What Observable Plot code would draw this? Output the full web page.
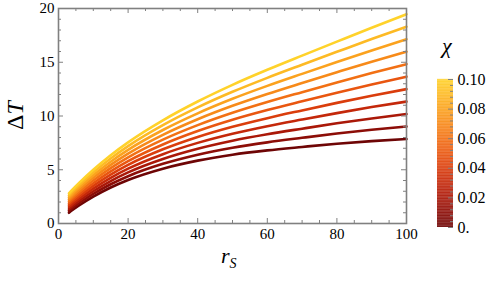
<!DOCTYPE html>
<html>
<head>
<meta charset="utf-8">
<script src="https://cdn.jsdelivr.net/npm/d3@7"></script>
<script src="https://cdn.jsdelivr.net/npm/@observablehq/plot@0.6"></script>
<style>
  html, body { margin: 0; padding: 0; background: #fff; }
  #wrap { position: relative; width: 496px; height: 284px; overflow: hidden; font-family: "Liberation Serif", serif; }
  #main, #bar { position: absolute; top: 0; }
  #main { left: 0; }
  #bar { left: 420px; }
  .lab { position: absolute; font-family: "Liberation Serif", serif; color: #000; white-space: nowrap; }
</style>
</head>
<body>
<div id="wrap">
  <div id="main"></div>
  <div id="bar"></div>
  <div class="lab" id="ylab" style="left:-3px; top:102px; font-size:24px; transform: rotate(-90deg); transform-origin: 50% 50%; width:36px; text-align:center;">Δ<i>T</i></div>
  <div class="lab" id="xlab" style="left:221px; top:243px; font-size:22px;"><i>r</i><i style="font-size:14px; position:relative; top:5px;">S</i></div>
  <div class="lab" id="clab" style="left:442px; top:33px; font-size:22px;"><i>χ</i></div>
</div>
<script>
// radial coordinate samples
const rS = [3, 4, 6, 10, 15, 20, 30, 40, 50, 60, 70, 80, 90, 100];
// chi values of the curves
const chiValues = [0, 0.01, 0.02, 0.03, 0.04, 0.05, 0.06, 0.07, 0.08, 0.09, 0.10];
// ΔT for each chi
const dT_000 = [1.00, 1.25, 1.70, 2.50, 3.35, 4.05, 5.10, 5.85, 6.40, 6.80, 7.12, 7.42, 7.66, 7.86];
const dT_001 = [1.18, 1.44, 1.91, 2.75, 3.65, 4.40, 5.55, 6.40, 7.05, 7.55, 7.97, 8.37, 8.72, 9.02];
const dT_002 = [1.36, 1.63, 2.12, 3.00, 3.95, 4.75, 6.00, 6.95, 7.70, 8.30, 8.82, 9.32, 9.77, 10.18];
const dT_003 = [1.54, 1.82, 2.33, 3.25, 4.25, 5.10, 6.45, 7.50, 8.35, 9.05, 9.67, 10.27, 10.83, 11.34];
const dT_004 = [1.72, 2.01, 2.54, 3.50, 4.55, 5.45, 6.90, 8.05, 9.00, 9.80, 10.52, 11.22, 11.88, 12.50];
const dT_005 = [1.90, 2.20, 2.75, 3.75, 4.85, 5.80, 7.35, 8.60, 9.65, 10.55, 11.37, 12.17, 12.94, 13.66];
const dT_006 = [2.08, 2.39, 2.96, 4.00, 5.15, 6.15, 7.80, 9.15, 10.30, 11.30, 12.22, 13.12, 13.99, 14.82];
const dT_007 = [2.26, 2.58, 3.17, 4.25, 5.45, 6.50, 8.25, 9.70, 10.95, 12.05, 13.07, 14.07, 15.05, 15.98];
const dT_008 = [2.44, 2.77, 3.38, 4.50, 5.75, 6.85, 8.70, 10.25, 11.60, 12.80, 13.92, 15.02, 16.10, 17.14];
const dT_009 = [2.62, 2.96, 3.59, 4.75, 6.05, 7.20, 9.15, 10.80, 12.25, 13.55, 14.77, 15.97, 17.16, 18.30];
const dT_010 = [2.80, 3.15, 3.80, 5.00, 6.35, 7.55, 9.60, 11.35, 12.90, 14.30, 15.62, 16.92, 18.21, 19.46];
const series = [dT_000, dT_001, dT_002, dT_003, dT_004, dT_005, dT_006, dT_007, dT_008, dT_009, dT_010];

// axis ticks
const xMajor = [0, 20, 40, 60, 80, 100];
const xMinor = [5, 10, 15, 25, 30, 35, 45, 50, 55, 65, 70, 75, 85, 90, 95];
const yMajor = [0, 5, 10, 15, 20];
const yMinor = [1, 2, 3, 4, 6, 7, 8, 9, 11, 12, 13, 14, 16, 17, 18, 19];
const cMajor = [0, 0.02, 0.04, 0.06, 0.08, 0.10];
const cMajorLabels = ["0.", "0.02", "0.04", "0.06", "0.08", "0.10"];
const cMinor = [0.004, 0.008, 0.012, 0.016, 0.024, 0.028, 0.032, 0.036, 0.044, 0.048, 0.052, 0.056, 0.064, 0.068, 0.072, 0.076, 0.084, 0.088, 0.092, 0.096];
// colour map (dark red -> yellow)
const colorStops = ["#6e0505", "#a11208", "#cf2c0a", "#ec560f", "#f78217", "#fcaa1f", "#ffd22a"];

const data = series.flatMap((vals, i) => vals.map((v, j) => ({r: rS[j], dT: v, chi: chiValues[i]})));

const W = 430, H = 284, mL = 58, mR = 24, mT = 8, mB = 61;
const iW = W - mL - mR, iH = H - mT - mB;
const grey = "#808080";
const colorScale = {type: "linear", domain: [0, 0.1], interpolate: d3.interpolateRgbBasis(colorStops)};

const main = Plot.plot({
  width: W, height: H,
  marginLeft: mL, marginRight: mR, marginTop: mT, marginBottom: mB,
  style: {fontFamily: "Liberation Serif, serif", fontSize: "15px", color: "#000", background: "transparent"},
  x: {domain: [0, 100], label: null},
  y: {domain: [0, 20], label: null},
  color: colorScale,
  marks: [
    Plot.line(data, {x: "r", y: "dT", z: "chi", stroke: "chi", strokeWidth: 2.6, curve: "monotone-x"}),
    // inward ticks, bottom & top
    Plot.tickX(xMajor, {x: d => d, insetTop: iH - 5, stroke: grey}),
    Plot.tickX(xMinor, {x: d => d, insetTop: iH - 3, stroke: grey}),
    Plot.tickX(xMajor, {x: d => d, insetBottom: iH - 5, stroke: grey}),
    Plot.tickX(xMinor, {x: d => d, insetBottom: iH - 3, stroke: grey}),
    // inward ticks, left & right
    Plot.tickY(yMajor, {y: d => d, insetRight: iW - 5, stroke: grey}),
    Plot.tickY(yMinor, {y: d => d, insetRight: iW - 3, stroke: grey}),
    Plot.tickY(yMajor, {y: d => d, insetLeft: iW - 5, stroke: grey}),
    Plot.tickY(yMinor, {y: d => d, insetLeft: iW - 3, stroke: grey}),
    Plot.frame({stroke: grey, strokeWidth: 1.6}),
    Plot.axisX({anchor: "bottom", ticks: xMajor, tickSize: 0, tickPadding: 5, label: null, fill: "#000"}),
    Plot.axisY({anchor: "left", ticks: yMajor, tickSize: 0, tickPadding: 4, label: null, fill: "#000"})
  ]
});
document.getElementById("main").appendChild(main);

// colour bar
const bW = 76, bL = 17, bR = 43, bT = 79, bB = 57;
const steps = d3.range(0, 0.1, 0.0005);
const bar = Plot.plot({
  width: bW, height: H,
  marginLeft: bL, marginRight: bR, marginTop: bT, marginBottom: bB,
  style: {fontFamily: "Liberation Serif, serif", fontSize: "16px", color: "#000", background: "transparent"},
  y: {domain: [0, 0.1], label: null},
  color: colorScale,
  marks: [
    Plot.rect(steps, {y1: d => d, y2: d => d + 0.0006, fill: d => d + 0.00025}),
    Plot.tickY(cMajor, {y: d => d, insetLeft: (bW - bL - bR) - 5, stroke: grey}),
    Plot.tickY(cMinor, {y: d => d, insetLeft: (bW - bL - bR) - 3, stroke: grey}),
    Plot.axisY({anchor: "right", ticks: cMajor, tickSize: 0, tickPadding: 4, label: null, fill: "#000",
      tickFormat: d => cMajorLabels[cMajor.indexOf(d)]})
  ]
});
document.getElementById("bar").appendChild(bar);
</script>
</body>
</html>
